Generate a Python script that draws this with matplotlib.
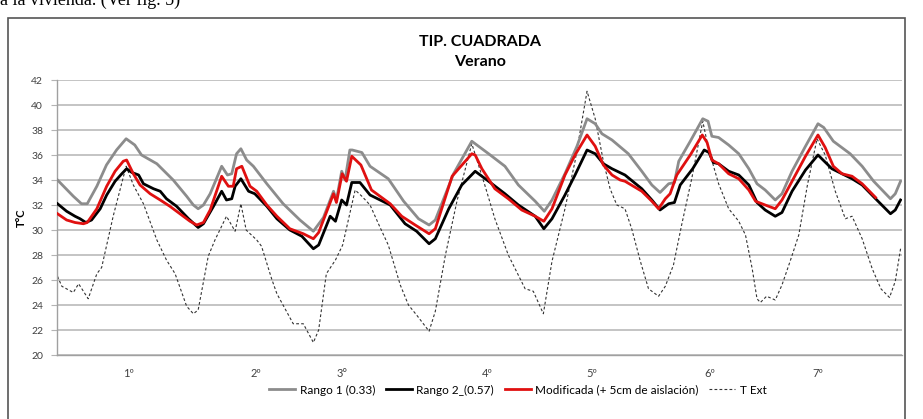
import matplotlib
matplotlib.use("Agg")
import matplotlib.pyplot as plt
from matplotlib.patches import Rectangle

# ---- data (hours from start, temperature °C) ----
rango1_h = [-0.4, 2.9, 4.6, 5.8, 7.8, 9.8, 11.9, 13.9, 15.7, 17.1, 20.3, 23.7, 26.5, 27.9, 28.9, 30.0,
            31.4, 33.8, 35.0, 35.9, 36.9, 37.8, 39.0, 40.4, 43.2, 46.6, 50.1, 52.9, 55.0, 57.1, 57.7,
            58.8, 59.5, 60.5, 61.0, 63.0, 64.7, 68.5, 71.7, 74.8, 77.0, 78.3, 82.1, 85.9, 86.6, 89.4,
            92.8, 95.6, 99.1, 101.0, 102.6, 105.3, 107.8, 109.9, 111.6, 113.0, 115.1, 118.5, 121.3,
            123.4, 125.1, 126.9, 128.1, 129.0, 131.4, 134.0, 135.1, 135.9, 137.3, 139.4, 141.5, 143.6,
            145.3, 147.0, 149.1, 150.5, 152.6, 155.4, 158.0, 159.2, 161.2, 164.7, 167.2, 169.6, 173.1,
            174.1, 175.2]
rango1_t = [34.0, 32.7, 32.1, 32.1, 33.5, 35.2, 36.4, 37.3, 36.8, 36.0, 35.3, 34.0, 32.7, 32.0, 31.7, 32.0,
            32.9, 35.1, 34.4, 34.5, 36.1, 36.5, 35.6, 35.1, 33.7, 32.1, 30.8, 29.9, 31.0, 33.1, 32.4,
            34.7, 34.0, 36.4, 36.4, 36.2, 35.1, 34.1, 32.3, 30.9, 30.4, 30.8, 34.5, 37.1, 36.9, 36.1,
            35.1, 33.6, 32.3, 31.5, 32.4, 34.5, 36.7, 38.9, 38.5, 37.7, 37.2, 36.1, 34.7,
            33.6, 33.0, 33.7, 33.8, 35.5, 37.1, 38.9, 38.7, 37.5, 37.4, 36.8, 36.1, 34.9,
            33.7, 33.2, 32.4, 32.9, 34.7, 36.7, 38.5, 38.2, 37.1, 36.1, 35.1, 33.9, 32.5,
            32.9, 33.9]

rango2_h = [-0.4, 1.5, 3.25, 4.3, 5.5, 6.7, 8.5, 9.85, 11.6, 13.0, 14.0, 15.1, 16.5, 17.5, 19.6, 21.0,
            22.3, 24.4, 26.9, 28.9, 30.0, 32.1, 33.8, 34.8, 35.9, 36.6, 37.8, 39.4, 40.7, 43.2, 45.3,
            48.0, 50.5, 52.9, 54.0, 56.4, 57.5, 58.8, 59.8, 60.9, 62.6, 64.7, 68.9, 72.0, 74.4, 77.0,
            78.3, 81.1, 83.8, 86.6, 89.4, 92.8, 95.6, 99.1, 100.9, 102.6, 105.3, 107.4, 109.9, 111.6,
            113.3, 115.1, 117.8, 121.3, 123.4, 125.1, 126.9, 128.1, 129.3, 131.9, 134.3, 135.3, 136.2,
            137.3, 139.4, 141.5, 143.6, 145.3, 147.0, 149.1, 150.5, 152.6, 155.4, 158.0, 160.9, 165.1,
            167.2, 170.0, 173.1, 174.1, 175.2]
rango2_t = [32.1, 31.5, 31.1, 30.9, 30.6, 30.8, 31.7, 32.8, 33.9, 34.5, 34.9, 34.6, 34.4, 33.7, 33.3, 33.1,
            32.5, 31.9, 30.9, 30.2, 30.5, 31.9, 33.1, 32.4, 32.5, 33.5, 34.1, 33.1, 32.9, 31.9, 30.9,
            30.0, 29.5, 28.5, 28.8, 31.1, 30.7, 32.4, 32.0, 33.8, 33.8, 32.8, 32.0, 30.5, 29.9, 28.9,
            29.3, 31.7, 33.6, 34.7, 33.9, 32.9, 32.0, 31.1, 30.1, 30.9, 32.8, 34.4, 36.4, 36.1,
            35.3, 34.9, 34.4, 33.3, 32.4, 31.6, 32.1, 32.2, 33.6, 34.9, 36.4, 36.2, 35.4,
            35.3, 34.7, 34.4, 33.6, 32.2, 31.6, 31.1, 31.4, 33.1, 34.8, 36.0, 34.9, 34.1,
            33.6, 32.5, 31.3, 31.6, 32.4]

modif_h = [-0.4, 1.5, 3.25, 5.0, 5.8, 7.8, 9.85, 11.6, 13.3, 14.0, 15.4, 16.8, 18.9, 21.0, 23.0, 25.1,
           27.2, 28.6, 30.0, 31.4, 33.8, 35.2, 36.2, 36.9, 38.0, 39.7, 41.1, 43.2, 45.3, 48.0, 50.8,
           52.9, 54.0, 57.1, 57.7, 58.9, 59.8, 60.9, 62.8, 65.0, 68.9, 71.3, 74.1, 77.0, 78.3, 81.8,
           85.9, 86.6, 88.0, 90.7, 93.5, 96.3, 99.1, 100.9, 102.6, 105.3, 107.4, 109.9, 111.6, 113.3,
           115.1, 116.8, 117.8, 121.3, 123.4, 124.8, 126.2, 127.2, 128.6, 131.4, 133.9, 134.9, 135.9,
           137.3, 139.4, 141.5, 143.6, 145.0, 147.0, 149.1, 150.5, 152.6, 155.4, 158.0, 159.5, 161.2,
           163.0, 165.1, 167.2, 170.0]
modif_t = [31.3, 30.8, 30.6, 30.5, 30.6, 31.7, 33.5, 34.7, 35.5, 35.6, 34.5, 33.6, 32.9, 32.4, 31.9, 31.3,
           30.7, 30.4, 30.6, 31.6, 34.3, 33.5, 33.5, 34.9, 35.1, 33.5, 33.1, 32.0, 31.1, 30.1, 29.7,
           29.3, 29.8, 32.9, 32.2, 34.5, 33.9, 35.9, 35.2, 33.2, 32.1, 31.1, 30.4, 29.7, 30.1, 34.3,
           36.1, 36.0, 34.9, 33.3, 32.5, 31.6, 31.1, 30.7, 31.7, 34.4, 36.0, 37.6, 36.7, 35.2,
           34.4, 34.0, 33.9, 33.1, 32.3, 31.7, 32.5, 32.9, 34.4, 36.0, 37.6, 37.0, 35.6,
           35.3, 34.5, 34.1, 33.2, 32.3, 32.0, 31.7, 32.4, 33.9, 35.9, 37.6, 36.6, 35.1,
           34.5, 34.3, 33.7, 32.6]

text_h = [-0.4, 0.5, 2.9, 4.0, 6.0, 7.8, 8.8, 11.2, 13.9, 15.4, 17.5, 20.3, 22.3, 24.1, 26.5, 27.9,
          28.9, 31.0, 32.4, 34.8, 36.6, 37.8, 38.9, 41.1, 42.1, 44.2, 45.3, 47.0, 48.7, 50.8, 52.9,
          54.0, 55.6, 57.5, 59.0, 60.3, 61.6, 63.0, 64.7, 66.8, 68.5, 71.0, 72.7, 74.4, 77.0, 78.3,
          80.4, 82.8, 85.9, 88.6, 90.7, 93.5, 97.0, 98.7, 100.8, 102.6, 105.3, 107.4, 109.9, 111.6,
          113.3, 114.7, 116.1, 117.8, 119.2, 121.0, 122.7, 124.8, 126.2, 127.9, 129.6, 131.7, 134.0,
          135.2, 137.3, 139.4, 141.5, 142.9, 144.3, 145.3, 146.0, 147.3, 149.1, 150.5, 152.2, 154.0,
          155.8, 157.8, 159.5, 161.6, 163.7, 165.1, 167.2, 169.3, 171.1, 172.9, 174.1, 175.2]
text_t = [26.3, 25.5, 25.0, 25.7, 24.5, 26.5, 27.0, 31.1, 35.1, 33.6, 32.1, 29.2, 27.6, 26.5, 23.9, 23.3,
          23.6, 27.9, 29.2, 31.1, 29.9, 32.1, 30.0, 29.2, 28.7, 26.1, 24.9, 23.7, 22.5, 22.5, 21.0,
          22.0, 26.5, 27.6, 28.8, 31.0, 33.2, 32.7, 32.0, 30.2, 28.8, 25.6, 24.0, 23.2, 21.9, 23.5,
          28.0, 32.3, 36.9, 33.6, 30.9, 28.0, 25.3, 25.1, 23.3, 27.5, 31.7, 35.5, 41.1, 38.9,
          35.5, 33.3, 32.0, 31.7, 30.1, 27.5, 25.3, 24.7, 25.5, 27.2, 30.4, 34.1, 38.7,
          36.5, 33.7, 31.7, 30.7, 29.6, 26.9, 24.5, 24.2, 24.7, 24.4, 25.6, 27.5, 29.6,
          33.6, 37.3, 36.0, 33.1, 30.9, 31.1, 29.3, 26.9, 25.3, 24.6, 25.9, 28.5]

day_labels = ["1º", "2º", "3°", "4º", "5º", "6º", "7º"]
day_label_h = [14.3, 41.0, 58.9, 89.1, 110.9, 135.5, 158.0]

# ---- figure ----
W, H = 923, 419
fig = plt.figure(figsize=(W / 100, H / 100), dpi=100)
plt.rcParams['font.family'] = ["Lato", "DejaVu Sans"]

# chart border (bottom edge runs off the picture)
border = Rectangle((8 / W, -0.05), (905 - 8) / W, 0.05 + (H - 18) / H,
                   transform=fig.transFigure, fill=False, edgecolor="#555555",
                   linewidth=1.2, zorder=0)
fig.patches.append(border)

# document text cut at the top
fig.text(0.0, 1.0, "a la vivienda. (Ver fig. 5)", family=["Liberation Serif"], fontsize=13,
         va="center", ha="left", color="black")

ax = fig.add_axes([57 / W, 1 - 355 / H, (902 - 57) / W, (355 - 80) / H])

ax.plot(rango1_h, rango1_t, color="#8c8c8c", lw=2.0, label="Rango 1 (0.33)", zorder=3)
ax.plot(rango2_h, rango2_t, color="#000000", lw=2.0, label="Rango 2_(0.57)", zorder=4)
ax.plot(modif_h, modif_t, color="#e01010", lw=2.0, label="Modificada (+ 5cm de aislación)", zorder=5)
ax.plot(text_h, text_t, color="#333333", lw=0.8, ls=(0, (2.5, 2)), label="T Ext", zorder=2)

ax.set_xlim(-0.5, 175.5)
ax.set_ylim(20, 42)
ax.set_yticks(range(20, 43, 2))
ax.yaxis.grid(True, color="#b4b4b4", lw=1.1)
ax.set_axisbelow(True)
ax.set_xticks(day_label_h)
ax.set_xticklabels(day_labels)
ax.tick_params(axis="x", length=0, pad=9, labelsize=8, colors="#404040")
ax.tick_params(axis="y", length=4, width=0.8, color="#b4b4b4", pad=6, labelsize=7.5, labelcolor="#404040")
for s in ["top", "right"]:
    ax.spines[s].set_visible(False)
for s in ["left", "bottom"]:
    ax.spines[s].set_color("#a0a0a0")
    ax.spines[s].set_linewidth(1.0)

ax.set_ylabel("T°C", fontsize=8, fontweight="bold", labelpad=3)

fig.text(480 / W, 1 - 42 / H, "TIP. CUADRADA", ha="center", va="center", fontsize=11.5,
         fontweight="bold")
fig.text(480 / W, 1 - 62 / H, "Verano", ha="center", va="center", fontsize=11.5,
         fontweight="bold")

fig.legend(loc="center", bbox_to_anchor=(518 / W, 1 - 390 / H), ncol=4, frameon=False,
           fontsize=8.5, handlelength=2.2, handletextpad=0.4, columnspacing=0.9)

fig.savefig("out.png", dpi=100)
